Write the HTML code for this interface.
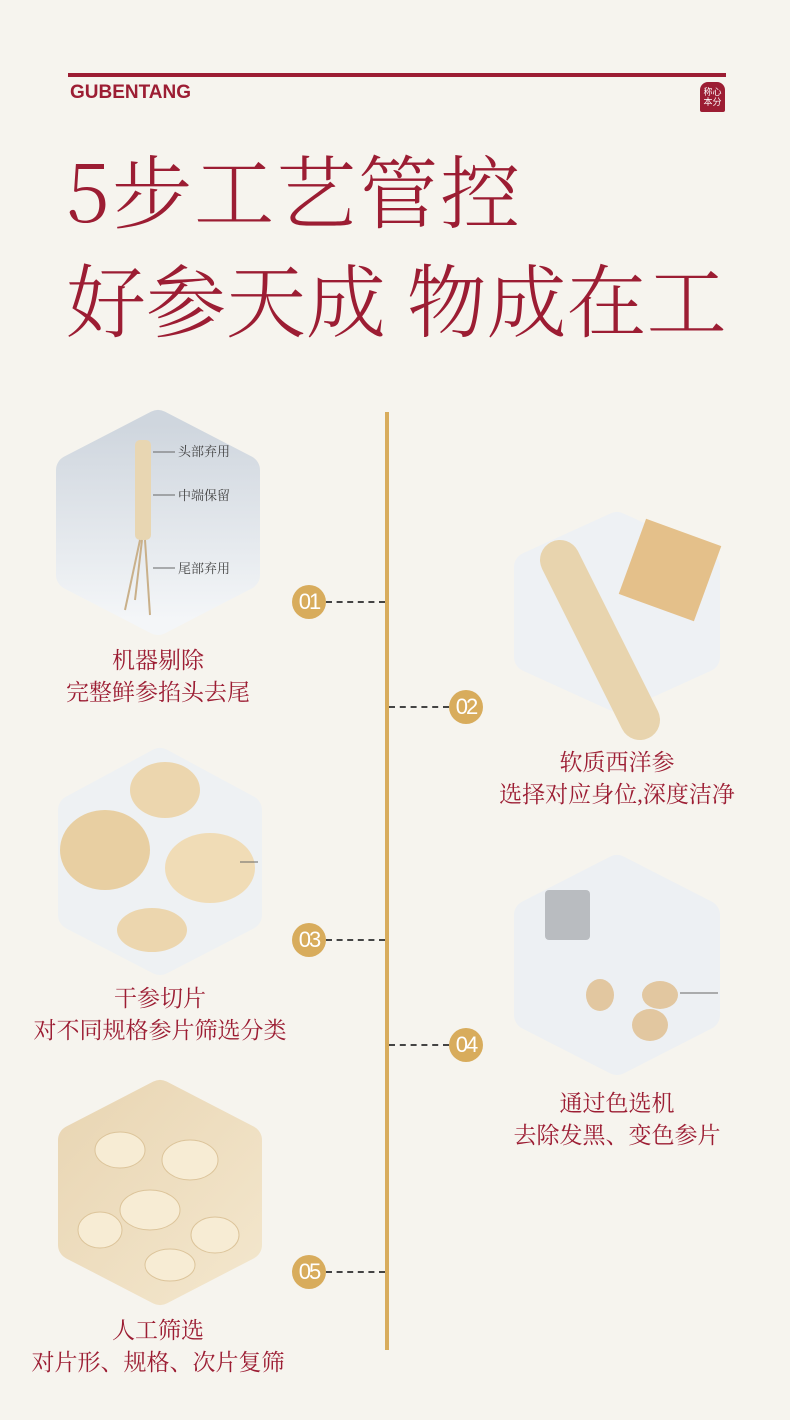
<!DOCTYPE html>
<html><head><meta charset="utf-8"><style>
body{margin:0;width:790px;height:1420px;background:#f6f4ee;position:relative;overflow:hidden;font-family:"Liberation Serif","Noto Serif CJK SC",serif}
.a{position:absolute}
.t{position:absolute;color:#9c1d33;font-size:23px;text-align:center;width:320px;line-height:32px;white-space:nowrap}
.c{position:absolute;width:34px;height:34px;border-radius:50%;background:#d8ac5c;color:#fff;font:22px "Liberation Sans",sans-serif;text-align:center;line-height:34px;letter-spacing:-2px}
.d{position:absolute;height:0;border-top:2px dashed #444}
</style></head><body>
<div class="a" style="left:68px;top:73px;width:658px;height:4px;background:#9c1d33"></div>
<div class="a" style="left:70px;top:82px;color:#9c1d33;font:bold 19px 'Liberation Sans',sans-serif">GUBENTANG</div>
<div class="a" style="left:700px;top:82px;width:25px;height:30px;background:#9c1d33;border-radius:8px 8px 2px 2px;color:#fff;font:9px 'Noto Sans CJK SC',sans-serif;line-height:10px;text-align:center;padding-top:5px;box-sizing:border-box">称心<br>本分</div>
<div class="a" style="left:66px;top:136px;color:#9c1d33;font-size:80px;line-height:104px;letter-spacing:2px;font-weight:300;font-family:'Noto Serif CJK SC',serif">5步工艺管控</div>
<div class="a" style="left:66px;top:245px;color:#9c1d33;font-size:80px;line-height:104px;letter-spacing:0px;font-weight:300;font-family:'Noto Serif CJK SC',serif">好参天成 物成在工</div>
<div class="a" style="left:385px;top:412px;width:4px;height:938px;background:#d8ac5c"></div>
<svg class="a" style="left:0;top:0" width="790" height="1420">
<defs>
<linearGradient id="b" x1="0" y1="0" x2="0" y2="1"><stop offset="0" stop-color="#cfd6de"/><stop offset="1" stop-color="#f4f6f8"/></linearGradient>
<linearGradient id="y" x1="0" y1="0" x2="1" y2="1"><stop offset="0" stop-color="#e9d6b4"/><stop offset="1" stop-color="#f3e6cc"/></linearGradient>
</defs>
<g stroke-linejoin="round" stroke-width="30">
<polygon points="158,425 245,470 245,575 158,620 71,575 71,470" fill="url(#b)" stroke="url(#b)"/>
<polygon points="617,527 705,567 705,657 617,697 529,657 529,567" fill="#eef1f4" stroke="#eef1f4"/>
<polygon points="160,763 247,810 247,915 160,960 73,915 73,810" fill="#eef1f3" stroke="#eef1f3"/>
<polygon points="617,870 705,915 705,1015 617,1060 529,1015 529,915" fill="#edf0f3" stroke="#edf0f3"/>
<polygon points="160,1095 247,1140 247,1245 160,1290 73,1245 73,1140" fill="url(#y)" stroke="url(#y)"/>
</g>
<rect x="135" y="440" width="16" height="100" fill="#e8d6b2" rx="5"/>
<path d="M140 540 L125 610 M145 540 L150 615 M142 540 L135 600" stroke="#c9b08a" stroke-width="2"/>
<path d="M560 560 L640 720" stroke="#e8d4ae" stroke-width="40" stroke-linecap="round"/>
<rect x="630" y="530" width="80" height="80" fill="#e4c08a" transform="rotate(20 670 570)"/>
<ellipse cx="165" cy="790" rx="35" ry="28" fill="#ecd6ae"/>
<ellipse cx="105" cy="850" rx="45" ry="40" fill="#e8cfa2"/>
<ellipse cx="210" cy="868" rx="45" ry="35" fill="#f0dcb6"/>
<ellipse cx="152" cy="930" rx="35" ry="22" fill="#ecd6ae"/>
<rect x="545" y="890" width="45" height="50" fill="#b9bcc0" rx="4"/>
<ellipse cx="600" cy="995" rx="14" ry="16" fill="#e2c7a0"/>
<ellipse cx="660" cy="995" rx="18" ry="14" fill="#e2c7a0"/>
<ellipse cx="650" cy="1025" rx="18" ry="16" fill="#e2c7a0"/>
<g fill="#f7ecd4" stroke="#dcc49a"><ellipse cx="120" cy="1150" rx="25" ry="18"/><ellipse cx="190" cy="1160" rx="28" ry="20"/><ellipse cx="150" cy="1210" rx="30" ry="20"/><ellipse cx="100" cy="1230" rx="22" ry="18"/><ellipse cx="215" cy="1235" rx="24" ry="18"/><ellipse cx="170" cy="1265" rx="25" ry="16"/></g>
<g stroke="#666" stroke-width="1"><line x1="153" y1="452" x2="175" y2="452"/><line x1="153" y1="495" x2="175" y2="495"/><line x1="153" y1="568" x2="175" y2="568"/><line x1="240" y1="862" x2="258" y2="862"/><line x1="680" y1="993" x2="718" y2="993"/></g>
<g font-size="13" fill="#444" font-family="Noto Serif CJK SC,serif"><text x="178" y="456">头部弃用</text><text x="178" y="500">中端保留</text><text x="178" y="573">尾部弃用</text></g>
</svg>
<div class="d" style="left:326px;top:601px;width:59px"></div>
<div class="d" style="left:389px;top:706px;width:60px"></div>
<div class="d" style="left:326px;top:939px;width:59px"></div>
<div class="d" style="left:389px;top:1044px;width:60px"></div>
<div class="d" style="left:326px;top:1271px;width:59px"></div>
<div class="c" style="left:292px;top:585px">01</div>
<div class="c" style="left:449px;top:690px">02</div>
<div class="c" style="left:292px;top:923px">03</div>
<div class="c" style="left:449px;top:1028px">04</div>
<div class="c" style="left:292px;top:1255px">05</div>
<div class="t" style="left:-2px;top:645px">机器剔除<br>完整鲜参掐头去尾</div>
<div class="t" style="left:457px;top:747px">软质西洋参<br>选择对应身位,深度洁净</div>
<div class="t" style="left:0px;top:983px">干参切片<br>对不同规格参片筛选分类</div>
<div class="t" style="left:457px;top:1088px">通过色选机<br>去除发黑、变色参片</div>
<div class="t" style="left:-2px;top:1315px">人工筛选<br>对片形、规格、次片复筛</div>
</body></html>
